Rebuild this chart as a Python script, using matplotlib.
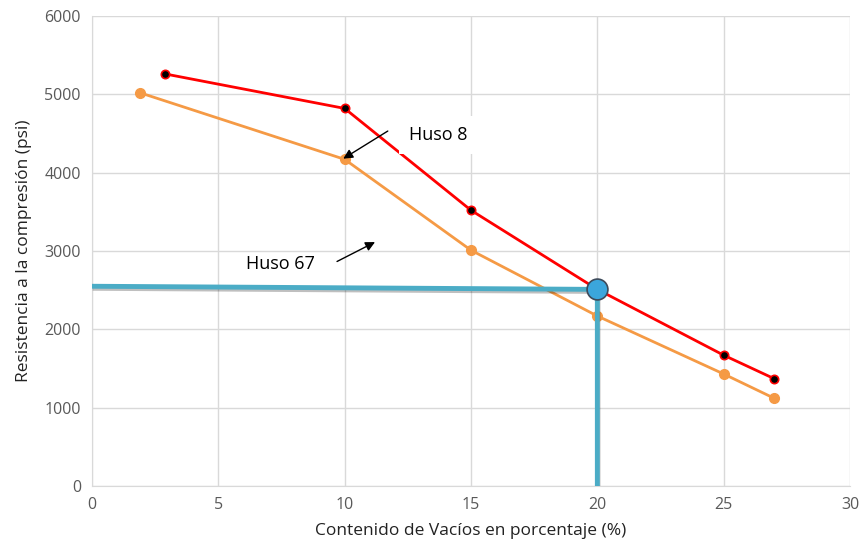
import matplotlib
matplotlib.use('Agg')
import matplotlib.pyplot as plt
import matplotlib.patheffects as pe

plt.rcParams['font.family'] = ['Open Sans', 'DejaVu Sans']

# data
vacios_h8 = [2.9, 10, 15, 20, 25, 27]
resist_h8 = [5260, 4820, 3520, 2510, 1670, 1370]
vacios_h67 = [1.9, 10, 15, 20, 25, 27]
resist_h67 = [5020, 4170, 3010, 2170, 1430, 1120]

# reading of 20 % voids
lectura_x = [0, 20, 20]
lectura_y = [2550, 2510, 0]
punto = (20, 2510)

xticks = [0, 5, 10, 15, 20, 25, 30]
yticks = [0, 1000, 2000, 3000, 4000, 5000, 6000]

fig = plt.figure(figsize=(8.61, 5.51), dpi=100)
ax = fig.add_axes([92 / 861, 65 / 551, 758 / 861, 470 / 551])

ax.plot(vacios_h8, resist_h8, '-', color='#ff0000', lw=2, zorder=3,
        marker='o', ms=6, mfc='black', mec='#ff0000', mew=1.2)
ax.plot(vacios_h67, resist_h67, '-', color='#f59a45', lw=2, zorder=3,
        marker='o', ms=7, mfc='#f59a45', mec='#f59a45')

shadow = [pe.SimpleLineShadow(offset=(0.5, -1.5), alpha=0.25), pe.Normal()]
ax.plot(lectura_x, lectura_y, '-', color='#4bacc6', lw=3.5, zorder=5,
        solid_capstyle='butt', path_effects=shadow)
ax.plot(*punto, 'o', ms=15, mfc='#3ba6dc', mec='#3d4a5a', mew=1.2, zorder=6)

ax.text(12.55, 4480, 'Huso 8', fontsize=13, va='center', ha='left', zorder=4,
        bbox=dict(facecolor='white', edgecolor='none', pad=7))
ax.annotate('', xy=(9.85, 4160), xytext=(11.8, 4550), zorder=7,
            arrowprops=dict(arrowstyle='-|>', color='black', lw=1,
                            mutation_scale=14))
ax.text(6.1, 2830, 'Huso 67', fontsize=13, va='center', ha='left', zorder=4)
ax.annotate('', xy=(11.3, 3130), xytext=(9.6, 2850), zorder=7,
            arrowprops=dict(arrowstyle='-|>', color='black', lw=1,
                            mutation_scale=14))

ax.set_xlim(0, 30)
ax.set_ylim(0, 6000)
ax.set_xticks(xticks)
ax.set_yticks(yticks)
ax.grid(True, color='#d9d9d9', lw=1)
ax.set_axisbelow(True)
for s in ['top', 'right']:
    ax.spines[s].set_visible(False)
ax.spines['left'].set_color('#d9d9d9')
ax.spines['bottom'].set_color('#d9d9d9')
ax.tick_params(length=0, colors='#595959', labelsize=11.5, pad=8)
ax.set_xlabel('Contenido de Vacíos en porcentaje (%)', fontsize=12.5, color='#222222', labelpad=7)
ax.set_ylabel('Resistencia a la compresión (psi)', fontsize=12.5, color='#222222', labelpad=9)

fig.savefig('out.png', dpi=100)
